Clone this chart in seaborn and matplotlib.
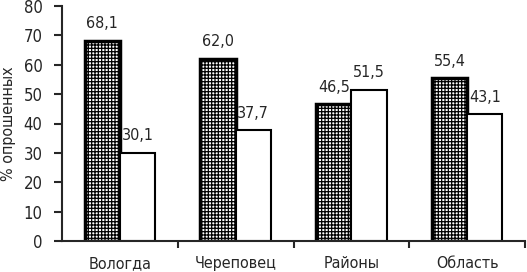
import matplotlib
matplotlib.use("Agg")
import matplotlib.pyplot as plt
import seaborn as sns
import pandas as pd
import numpy as np

categories = ["Вологда", "Череповец", "Районы", "Область"]
series1 = [68.1, 62.0, 46.5, 55.4]
series2 = [30.1, 37.7, 51.5, 43.1]
series_names = ["s1", "s2"]
yticks = [0, 10, 20, 30, 40, 50, 60, 70, 80]

sns.set_style("ticks")
plt.rcParams['font.family'] = ['DejaVu Sans']
plt.rcParams['font.stretch'] = 'condensed'
plt.rcParams['hatch.linewidth'] = 0.9
plt.rcParams['hatch.color'] = 'black'

df = pd.DataFrame({
    "cat": categories * 2,
    "val": series1 + series2,
    "ser": [series_names[0]] * 4 + [series_names[1]] * 4,
})

fig = plt.figure(figsize=(5.27, 2.72), dpi=100)
ax = fig.add_axes([62/527, 1-241/272, 463/527, 235/272])
sns.barplot(data=df, x="cat", y="val", hue="ser", order=categories,
            hue_order=series_names, palette=["white", "white"],
            edgecolor="black", linewidth=1.5, width=0.61, ax=ax, legend=False)

for bar in ax.containers[0]:
    bar.set_hatch("+++++")
    bar.set_linewidth(2.5)

for cont, vals in zip(ax.containers, [series1, series2]):
    ax.bar_label(cont, labels=[f"{v:.1f}".replace(".", ",") for v in vals],
                 padding=7, fontsize=11.5)

ax.set_ylim(0, 80)
ax.set_xlim(-0.5, 3.5)
ax.set_yticks(yticks)
ax.set_yticklabels([str(t) for t in yticks], fontsize=12)
ax.set_xticks(np.arange(0.5, 4, 1), minor=False)
ax.set_xticklabels([])
ax.set_xticks(range(4), minor=True)
ax.set_xticklabels(categories, minor=True, fontsize=11.5)
ax.tick_params(axis='x', which='minor', length=0, pad=11)
ax.tick_params(axis='x', which='major', length=5, width=1.5, direction='out')
ax.tick_params(axis='y', length=6, width=1.5, direction='out', pad=8)
ax.set_xlabel("")
ax.set_ylabel("% опрошенных", fontsize=11.5, va="center")
ax.yaxis.set_label_coords(-53/463, 0.5)
for s in ["top", "right"]:
    ax.spines[s].set_visible(False)
for s in ["left", "bottom"]:
    ax.spines[s].set_linewidth(1.5)

fig.savefig("out.png", dpi=100)
